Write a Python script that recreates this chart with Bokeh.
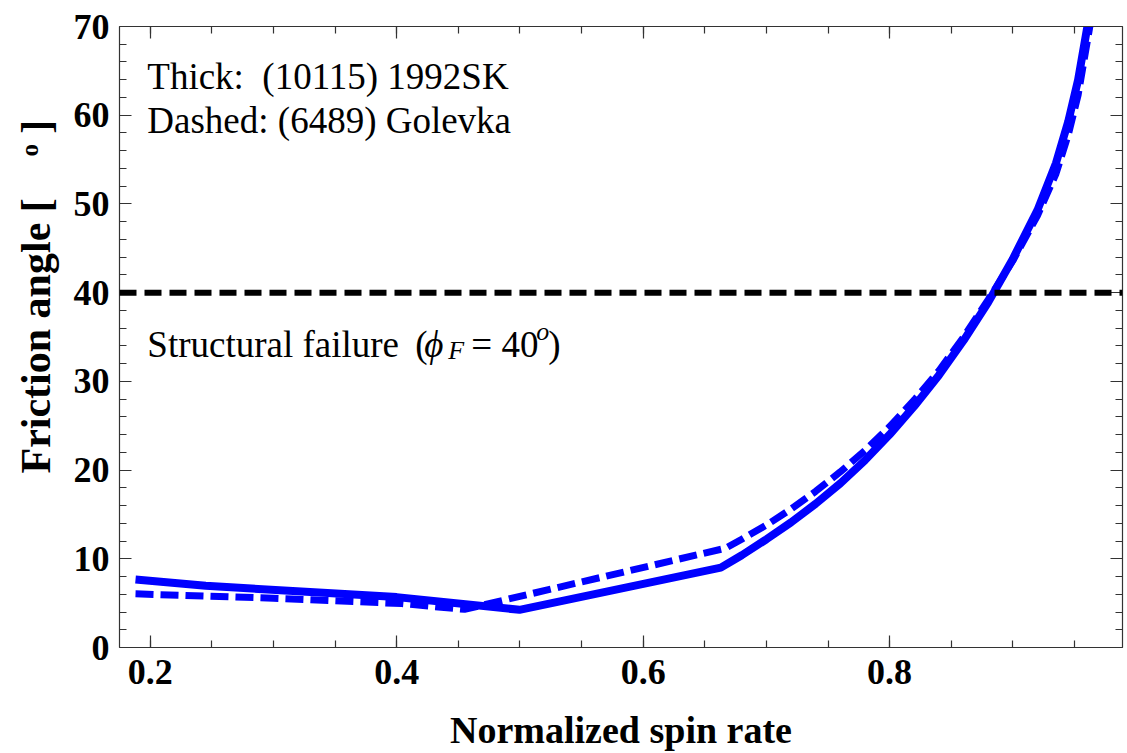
import math
from bokeh.plotting import figure
from bokeh.models import Span, Label, LinearAxis, FixedTicker, Range1d, CustomJSTickFormatter, Title
from bokeh.embed import file_html
from bokeh.resources import INLINE

# ---------------- data ----------------
solid_x = [0.188, 0.245, 0.400, 0.4996, 0.663, 0.680, 0.700, 0.720, 0.740, 0.760, 0.780, 0.800,
           0.820, 0.840, 0.860, 0.880, 0.900, 0.920, 0.935, 0.945, 0.953, 0.9605]
solid_y = [7.67, 6.95, 5.68, 4.25, 9.0, 10.4, 12.2, 14.1, 16.2, 18.5, 21.1, 24.0,
           27.2, 30.7, 34.6, 38.9, 43.8, 49.3, 54.6, 59.3, 64.0, 70.0]

dashed_x = [0.188, 0.300, 0.404, 0.455, 0.667, 0.680, 0.700, 0.720, 0.740, 0.760, 0.780, 0.800,
            0.820, 0.840, 0.860, 0.880, 0.900, 0.920, 0.935, 0.945, 0.953, 0.9625]
dashed_y = [6.05, 5.55, 4.95, 4.30, 11.2, 12.2, 13.8, 15.6, 17.6, 19.8, 22.2, 24.9,
            27.9, 31.2, 35.0, 39.2, 43.6, 48.7, 53.4, 57.8, 62.3, 70.0]

failure_angle = 40

x_major_ticks = [0.2, 0.4, 0.6, 0.8]
y_major_ticks = [0, 10, 20, 30, 40, 50, 60, 70]

x_label = "Normalized spin rate"
y_label = "Friction angle [\u2003\u1d52 ]"
thick_text = ["Thick:", "(10115) 1992SK"]
dashed_text = "Dashed: (6489) Golevka"

# ---------------- layout helpers (reference pixel -> data) ----------------
def X(px):
    return 0.2 + (px - 148) / 1235.0

def Y(py):
    return (647 - py) / 8.871

FONT = "Liberation Serif"
BLUE = "#0000FF"
AX = "#333333"

p = figure(width=1127, height=753,
           x_range=Range1d(0.175, 0.989), y_range=Range1d(0, 70),
           output_backend="svg", toolbar_location=None,
           min_border_left=117, min_border_right=5,
           min_border_top=26, min_border_bottom=106,
           x_axis_location=None, y_axis_location=None)
p.grid.visible = False
p.outline_line_color = None
p.background_fill_color = "white"
p.border_fill_color = "white"

x_minor = [round(0.2 + 0.05 * i, 3) for i in range(0, 16)]
y_minor = [2 * i for i in range(0, 36)]

def style_axis(ax, labels=True):
    ax.axis_line_color = AX
    ax.axis_line_width = 1.2
    ax.major_tick_line_color = AX
    ax.minor_tick_line_color = AX
    ax.major_tick_line_width = 1.2
    ax.minor_tick_line_width = 1.2
    ax.major_tick_in = 12
    ax.major_tick_out = 0
    ax.minor_tick_in = 7
    ax.minor_tick_out = 0
    if labels:
        ax.major_label_text_font = FONT
        ax.major_label_text_font_style = "bold"
        ax.major_label_text_font_size = "36px"
        ax.major_label_text_color = "black"
        ax.axis_label_text_font = FONT
        ax.axis_label_text_font_style = "bold"
        ax.axis_label_text_font_size = "38px"
        ax.axis_label_text_color = "black"
    else:
        ax.formatter = CustomJSTickFormatter(code="return ''")
        ax.major_label_text_font_size = "1px"
        ax.major_label_standoff = 0

xb = LinearAxis(ticker=FixedTicker(ticks=x_major_ticks, minor_ticks=x_minor))
style_axis(xb)
xb.major_label_standoff = 12
xb.axis_label = x_label
xb.axis_label_standoff = 22
p.add_layout(xb, "below")

xt = LinearAxis(ticker=FixedTicker(ticks=x_major_ticks, minor_ticks=x_minor))
style_axis(xt, labels=False)
p.add_layout(xt, "above")

yl = LinearAxis(ticker=FixedTicker(ticks=y_major_ticks, minor_ticks=y_minor))
style_axis(yl)
yl.major_label_standoff = 10
p.add_layout(yl, "left")

yr = LinearAxis(ticker=FixedTicker(ticks=y_major_ticks, minor_ticks=y_minor))
style_axis(yr, labels=False)
p.add_layout(yr, "right")

# y-axis title: starts at the same height as in the reference
p.add_layout(Title(text=y_label, align="left", offset=174, vertical_align="middle",
                   standoff=22, text_font=FONT, text_font_style="bold",
                   text_font_size="42px", text_color="black"), "left")

# ---------------- data lines ----------------
p.line(solid_x, solid_y, line_color=BLUE, line_width=8)
p.line(dashed_x, dashed_y, line_color=BLUE, line_width=7, line_dash="18 7")

p.add_layout(Span(location=failure_angle, dimension="width", line_color="black",
                  line_width=6, line_dash="17 8"))

# ---------------- annotations ----------------
def lab(x, y, text, size="37px", style="normal", x_offset=0, align="left"):
    p.add_layout(Label(x=x, y=y, text=text, x_offset=x_offset,
                       text_font=FONT, text_font_size=size, text_font_style=style,
                       text_color="black", text_align=align, text_baseline="alphabetic"))

lab(X(145), Y(76), thick_text[0])
lab(X(145), Y(76), thick_text[1], x_offset=115)
lab(X(145), Y(120), dashed_text)

sx, sy = X(145), Y(344)
lab(sx, sy, "Structural failure")
lab(sx, sy, "(", x_offset=268)
lab(sx, sy, "\u03d5", style="italic", x_offset=277)
lab(sx, Y(350), "F", size="26px", style="italic", x_offset=301)
lab(sx, sy, "= 40", x_offset=324)
lab(sx, Y(331), "o", size="26px", style="italic", x_offset=389)
lab(sx, sy, ")", x_offset=401)

open("out.html", "w").write(file_html(p, INLINE))
